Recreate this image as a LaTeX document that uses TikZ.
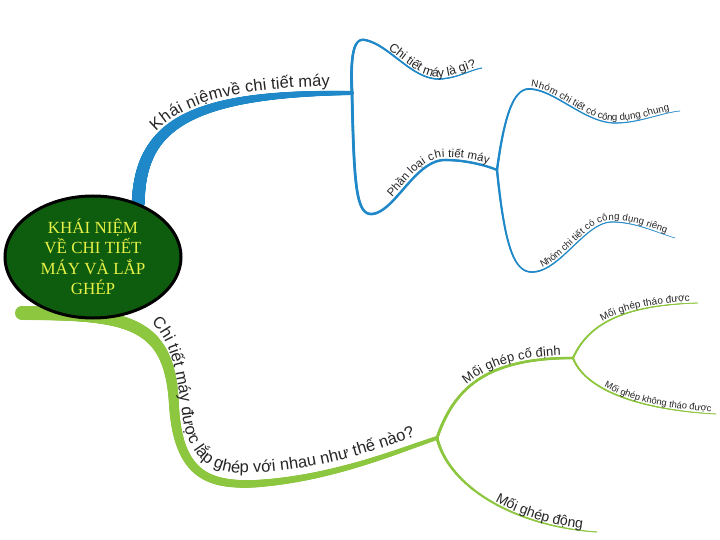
\documentclass[tikz,border=0pt]{standalone}
\usepackage{fontspec}
\usepackage{tikz}
\usetikzlibrary{shapes.geometric,decorations.markings,decorations.text,backgrounds}
\newfontfamily\branchfont{Liberation Sans}
\newfontfamily\titlefont{Liberation Serif}
\definecolor{mapblue}{RGB}{30,136,200}
\definecolor{mapgreen}{RGB}{141,198,63}
\definecolor{rootgreen}{RGB}{14,92,14}
\definecolor{rootyellow}{RGB}{232,242,70}

\begin{document}
\begin{tikzpicture}[x=1pt,y=-1pt,
  taper/.style 2 args={postaction={decorate,decoration={markings,
      mark=between positions 0 and 1 step 0.002 with {%
        \pgfmathsetmacro\rad{(#1+(#2-#1)*\pgfkeysvalueof{/pgf/decoration/mark info/distance from start}/\pgfdecoratedpathlength)/2}%
        \fill (0,0) circle [radius=\rad pt];}}}},
  alongtext/.style n args={4}{postaction={decorate,decoration={text along path,
      text={|\branchfont\fontsize{#1}{#1}\selectfont\color{black!85}|#4},
      raise=#2,text align={#3}}}}]
  \useasboundingbox (0,0) rectangle (720,540);

  \node[ellipse,draw=black,line width=3pt,fill=rootgreen,minimum width=176pt,minimum height=122pt,
        inner sep=0pt,align=center,text=rootyellow,font=\titlefont\fontsize{17}{20.5}\selectfont] (root) at (93,257)
    {KHÁI NIỆM\\VỀ CHI TIẾT\\MÁY VÀ LẮP\\GHÉP};

  \coordinate (bj1) at (352,93);
  \coordinate (bj2) at (497,170);
  \coordinate (b1end) at (482,68);
  \coordinate (b3end) at (680,111);
  \coordinate (b4end) at (675,238);
  \coordinate (gs) at (22,313);
  \coordinate (gj1) at (437,438);
  \coordinate (gj2) at (573,358);
  \coordinate (g1end) at (698,303);
  \coordinate (g2end) at (716,414);
  \coordinate (g3end) at (597,532);

  \begin{scope}[on background layer]
    \fill[white] (0,0) rectangle (720,540);
    % blue branch
    \path[mapblue,taper={13}{4},alongtext={16.5}{7pt}{right,right indent=22pt}{Khái niệmvề chi tiết máy}]
      (root.50) .. controls (140,125) and (190,93) .. (bj1);
    \path[mapblue,taper={3}{1},alongtext={12.5}{2pt}{right,right indent=5pt}{Chi tiết máy là gì?}]
      (bj1) .. controls (350,50) and (355,38) .. (365,40) .. controls (390,45) and (412,80) .. (440,79)
      .. controls (458,78) and (470,70) .. (b1end);
    \path[mapblue,taper={3}{2.5},alongtext={11.5}{3pt}{right,right indent=10pt}{Phần loại chi tiết máy}]
      (bj1) .. controls (354,185) and (356,215) .. (372,214) .. controls (395,212) and (415,160) .. (445,160)
      .. controls (465,160) and (485,165) .. (bj2);
    \path[mapblue,taper={2.5}{0.8},alongtext={9.8}{2pt}{right,right indent=10pt}{Nhóm chi tiết có công dụng chung}]
      (bj2) .. controls (505,110) and (515,88) .. (530,89) .. controls (555,90) and (585,123) .. (615,123)
      .. controls (640,123) and (660,113) .. (b3end);
    \path[mapblue,taper={2.5}{0.8},alongtext={9.6}{2pt}{right,right indent=10pt}{Nhóm chi tiết có công dụng riêng}]
      (bj2) .. controls (505,250) and (515,272) .. (532,272) .. controls (560,272) and (585,222) .. (612,222)
      .. controls (635,222) and (655,232) .. (b4end);
    % green branch
    \path[mapgreen,taper={14}{4}]
      (gs) .. controls (130,314) and (170,322) .. (174,405) .. controls (178,478) and (212,484) .. (250,484)
      .. controls (330,480) and (400,450) .. (gj1);
    \path[alongtext={16.5}{0pt}{left}{Chi tiết máy được lắp ghép với nhau như thế nào?}]
      (151,323) .. controls (172,340) and (178,380) .. (183,420) .. controls (190,462) and (215,474) .. (250,473)
      .. controls (320,471) and (385,448) .. (425,432);
    \path[mapgreen,taper={3}{2.5},alongtext={13}{3pt}{right,right indent=12pt}{Mối ghép cố định}]
      (gj1) .. controls (455,385) and (490,358) .. (gj2);
    \path[mapgreen,taper={3}{1},alongtext={14}{2pt}{right,right indent=15pt}{Mối ghép động}]
      (gj1) .. controls (450,490) and (520,527) .. (g3end);
    \path[mapgreen,taper={2}{0.8},alongtext={10}{2pt}{right,right indent=8pt}{Mối ghép tháo được}]
      (gj2) .. controls (590,320) and (630,305) .. (g1end);
    \path[mapgreen,taper={2}{0.8},alongtext={9.3}{2pt}{right,right indent=5pt}{Mối ghép không tháo được}]
      (gj2) .. controls (585,390) and (640,410) .. (g2end);
  \end{scope}
\end{tikzpicture}
\end{document}
